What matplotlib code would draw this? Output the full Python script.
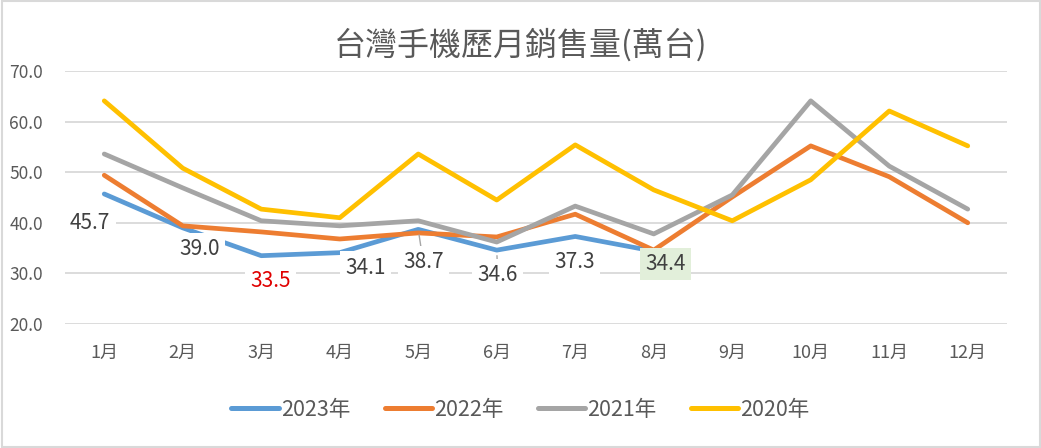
import matplotlib
matplotlib.use("Agg")
import matplotlib.pyplot as plt
from matplotlib.patches import Rectangle

plt.rcParams['font.family'] = ['Noto Sans CJK TC', 'DejaVu Sans']

# 月份與各年度銷售量(萬台)
months = ['1月', '2月', '3月', '4月', '5月', '6月', '7月', '8月', '9月', '10月', '11月', '12月']
sales_2023 = [45.7, 39.0, 33.5, 34.1, 38.7, 34.6, 37.3, 34.4]
sales_2022 = [49.4, 39.4, 38.2, 36.8, 38.0, 37.2, 41.7, 34.6, 45.1, 55.2, 49.1, 40.0]
sales_2021 = [53.6, 46.9, 40.4, 39.4, 40.4, 36.2, 43.3, 37.8, 45.5, 64.1, 51.2, 42.7]
sales_2020 = [64.1, 50.8, 42.7, 41.0, 53.6, 44.5, 55.4, 46.5, 40.4, 48.5, 62.1, 55.2]
y_ticks = [20, 30, 40, 50, 60, 70]

# 標籤偏移 (像素)
label_offsets = [(-14, -29), (17, -21), (9, -25), (26, -15), (5, -33), (1, -25), (-1, -26), (12, -13)]

colors = {'2023年': '#5B9BD5', '2022年': '#ED7D31', '2021年': '#A5A5A5', '2020年': '#FFC000'}
text_color = '#595959'

fig = plt.figure(figsize=(10.41, 4.48), dpi=100)
ax = fig.add_axes([65 / 1041, 1 - 324 / 448, 942 / 1041, 253 / 448])

x = list(range(1, len(months) + 1))
series = [('2023年', sales_2023), ('2022年', sales_2022), ('2021年', sales_2021), ('2020年', sales_2020)]
for name, vals in series:
    ax.plot(x[:len(vals)], vals, color=colors[name], lw=3.4, label=name,
            solid_capstyle='round', solid_joinstyle='round')

ax.set_xlim(0.5, 12.5)
ax.set_ylim(20, 70)
ax.set_yticks(y_ticks)
ax.set_yticklabels([f'{v:.1f}' for v in y_ticks])
ax.set_xticks(x)
ax.set_xticklabels(months)
ax.tick_params(length=0, colors=text_color)
ax.tick_params(axis='x', pad=14, labelsize=13)
ax.tick_params(axis='y', pad=16, labelsize=12.5)
ax.grid(axis='y', color='#D9D9D9', lw=1.3)
ax.set_axisbelow(True)
for s in ax.spines.values():
    s.set_visible(False)

# 資料標籤
for i, (v, (dx, dy)) in enumerate(zip(sales_2023, label_offsets)):
    fc = 'white'
    col = '#404040'
    if i == 2:
        col = '#E00000'
    if i == 7:
        fc = '#E2EFDA'
    arrow = None
    if i in (4, 5):
        arrow = dict(arrowstyle='-', color='#A6A6A6', lw=1, shrinkA=0, shrinkB=4)
    ax.annotate(f'{v:.1f}', xy=(x[i], v), xytext=(dx, dy), textcoords='offset pixels',
                ha='center', va='center', fontsize=15, color=col, zorder=10,
                bbox=dict(boxstyle='square,pad=0.25', fc=fc, ec='none'),
                arrowprops=arrow)

fig.suptitle('台灣手機歷月銷售量(萬台)', x=0.5, y=1 - 45 / 448, va='center',
             fontsize=23, color=text_color, fontweight='medium')

leg = fig.legend(loc='center', bbox_to_anchor=(0.5, 1 - 410 / 448), ncol=4, frameon=False,
                 fontsize=15.5, handlelength=2.2, handletextpad=0.1, columnspacing=1.6)
for t in leg.get_texts():
    t.set_color(text_color)
for h in leg.get_lines():
    h.set_linewidth(3.6)

fig.patches.append(Rectangle((1.5 / 1041, 1.5 / 448), 1 - 3 / 1041, 1 - 3 / 448,
                             transform=fig.transFigure, fill=False, ec='#D9D9D9', lw=1.5))

fig.savefig('out.png', dpi=100)
